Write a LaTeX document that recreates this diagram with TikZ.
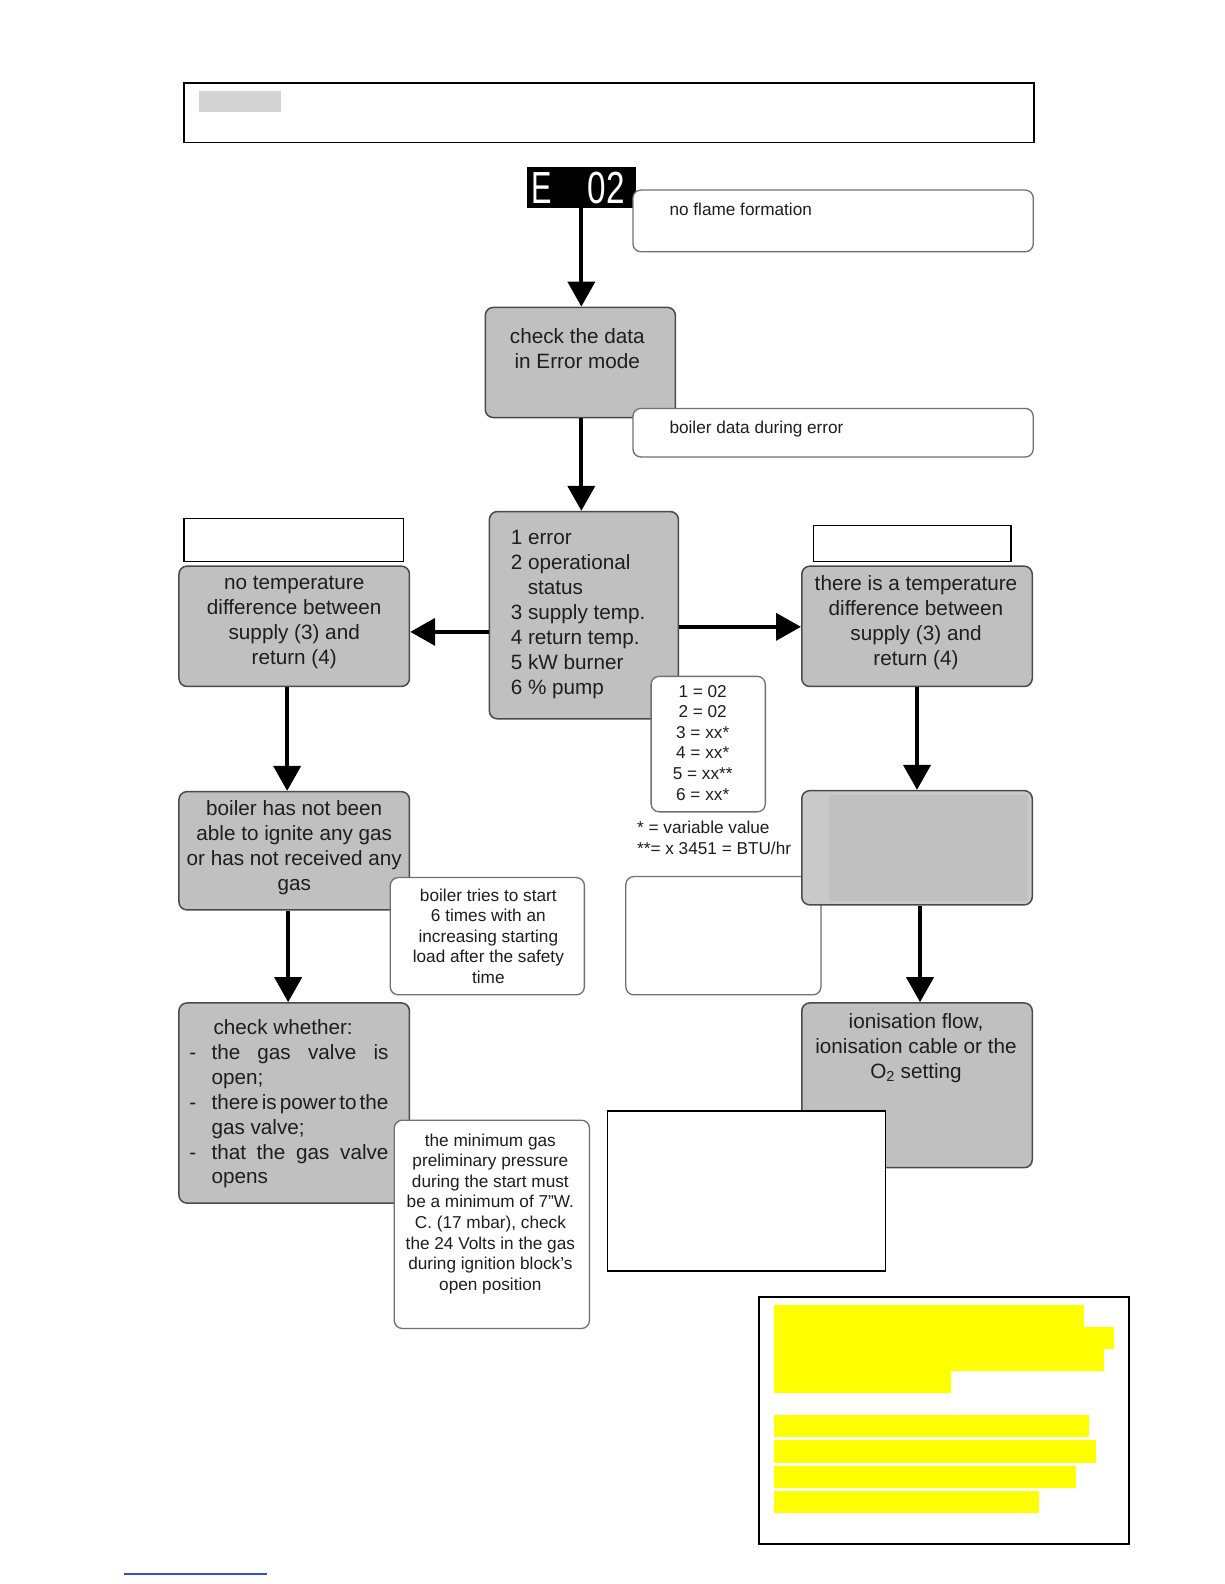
\documentclass[tikz,border=0pt]{standalone}
\usepackage{fontspec}
\usepackage{graphicx}
\setmainfont{Liberation Sans}
\usetikzlibrary{arrows.meta,fit}
\definecolor{boxgray}{HTML}{C0C0C0}
\definecolor{boxgraylight}{HTML}{C9C9C9}
\definecolor{boxedge}{HTML}{4A4A4A}
\definecolor{calloutedge}{HTML}{707070}
\definecolor{hdrgray}{HTML}{D3D3D3}
\definecolor{txt}{HTML}{1E1E1E}
\definecolor{hlyellow}{HTML}{FFFF00}
\definecolor{linkblue}{HTML}{3050C8}
\tikzset{
  gbox/.style={draw=boxedge, fill=boxgray, line width=1.5pt, rounded corners=8pt, inner sep=0pt},
  callout/.style={draw=calloutedge, fill=white, line width=1.3pt, rounded corners=8pt, inner sep=0pt},
  plainbox/.style={draw=black, fill=white, line width=1.3pt, inner sep=0pt},
  arr/.style={line width=4pt, -{Triangle[width=27pt,length=25pt]}},
  bigtxt/.style={font=\fontsize{20.7}{25}\selectfont, text=txt, align=center, inner sep=0pt},
  smalltxt/.style={font=\fontsize{17.2}{20.6}\selectfont, text=txt, align=center, inner sep=0pt},
  segtxt/.style={font=\fontsize{45}{45}\selectfont, text=white, inner sep=0pt},
  hlbar/.style={fill=hlyellow, draw=none, inner sep=0pt},
}
\begin{document}
\begin{tikzpicture}[x=1.011pt,y=-1.011pt]
\fill[white] (2pt,-1pt) rectangle (1226pt,-1585pt);
\useasboundingbox (2pt,-1pt) rectangle (1226pt,-1585pt);

% header
\node[draw=black, line width=1.8pt, inner sep=0pt, fit={(184,83)(1025,142)}] (hdr) {};
\node[fill=hdrgray, inner sep=0pt, fit={(199,91)(280,112)}] (hdrmark) {};

% E 02 display
\node[fill=black, inner sep=0pt, fit={(523,166)(631,207)}] (e02) {};
\node[segtxt] (eE) at (537.5,186.5) {\scalebox{0.68}[1]{E}};
\node[segtxt] (e0) at (601.5,186.5) {\scalebox{0.74}[1]{02}};

% callout: no flame formation
\node[callout, fit={(628,189)(1024,250)}] (flame) {};
\node[smalltxt, anchor=west] (flametxt) at (664,208) {no flame formation};

% check the data
\node[gbox, fit={(482,305)(670,414)}] (check) {};
\node[bigtxt] (checktxt) at (573,345.5) {check the data\\in Error mode};

% callout: boiler data during error
\node[callout, fit={(628,405)(1024,453)}] (bdata) {};
\node[smalltxt, anchor=west] (bdatatxt) at (664,425) {boiler data during error};

% data box
\node[gbox, fit={(486,507)(673,712)}] (data) {};
\node[bigtxt, align=left, anchor=west] (datatxt) at (507,608.5)
  {1 error\\2 operational\\\hspace*{17pt}status\\3 supply temp.\\4 return temp.\\5 kW burner\\6 \% pump};

% empty label boxes
\node[plainbox, line width=1.2pt, fit={(184,514)(401,556)}] (lnote) {};
\node[plainbox, line width=1.2pt, fit={(807,521)(1002,556)}] (rnote) {};

% left / right decision boxes
\node[gbox, fit={(179,561)(407,680)}] (nodiff) {};
\node[bigtxt] (nodifftxt) at (293,616.5) {no temperature\\difference between\\supply (3) and\\return (4)};
\node[gbox, fit={(795,561)(1023,680)}] (diff) {};
\node[bigtxt] (difftxt) at (908,616.5) {there is a temperature\\difference between\\supply (3) and\\return (4)};

\coordinate (yL) at (0,626);
\coordinate (yR) at (0,621);
\draw[arr] (yL -| data.west) -- (yL -| nodiff.east);
\draw[arr] (yR -| data.east) -- (yR -| diff.west);

% values callout
\node[callout, fit={(646,670)(759,804)}] (vals) {};
\node[smalltxt] (valstxt) at (697,735.5) {1 = 02\\2 = 02\\3 = xx*\\4 = xx*\\5 = xx**\\6 = xx*};
\node[smalltxt, align=left, anchor=west] (foot) at (632,830) {* = variable value\\**= x 3451 = BTU/hr};

% top arrows
\draw[arr] (e02.south) -- (e02.south |- check.north);
\coordinate (xC) at (577,0);
\draw[arr] (xC |- check.south) -- (xC |- data.north);

% left column
\node[gbox, fit={(179,784)(407,901)}] (boiler) {};
\node[bigtxt] (boilertxt) at (293,839) {boiler has not been\\able to ignite any gas\\or has not received any\\gas};
\coordinate (xL1) at (286,0);
\draw[arr] (xL1 |- nodiff.south) -- (xL1 |- boiler.north);

\node[callout, fit={(388,869)(580,985)}] (tries) {};
\node[smalltxt] (triestxt) at (485,927) {boiler tries to start\\6 times with an\\increasing starting\\load after the safety\\time};

\node[callout, fit={(621,868)(814,985)}] (blank) {};

\node[gbox, fit={(179,993)(407,1191)}] (checkw) {};
\coordinate (xL2) at (287,0);
\draw[arr] (xL2 |- boiler.south) -- (xL2 |- checkw.north);
\node[bigtxt, anchor=base west] (cw0) at (213,1024) {check whether:};
\node[bigtxt, anchor=base west] (cwd1) at (189,1049) {-};
\node[bigtxt, anchor=base west] (cw1) at (211,1049) {\makebox[177pt][s]{the\hfill gas\hfill valve\hfill is}};
\node[bigtxt, anchor=base west] (cw2) at (211,1074) {open;};
\node[bigtxt, anchor=base west] (cwd2) at (189,1098) {-};
\node[bigtxt, anchor=base west] (cw3) at (211,1098) {\makebox[177pt][s]{there\hfill is\hfill power\hfill to\hfill the}};
\node[bigtxt, anchor=base west] (cw4) at (211,1123) {gas valve;};
\node[bigtxt, anchor=base west] (cwd3) at (189,1148) {-};
\node[bigtxt, anchor=base west] (cw5) at (211,1148) {\makebox[177pt][s]{that\hfill the\hfill gas\hfill valve}};
\node[bigtxt, anchor=base west] (cw6) at (211,1172) {opens};

\node[callout, fit={(392,1109)(585,1315)}] (minp) {};
\node[smalltxt] (minptxt) at (487,1201.5) {the minimum gas\\preliminary pressure\\during the start must\\be a minimum of 7"W.\\C. (17 mbar), check\\the 24 Volts in the gas\\during ignition block's\\open position};

% right column
\node[gbox, fill=boxgraylight, fit={(795,783)(1023,896)}] (rgray) {};
\node[fill=boxgray, inner sep=0pt, fit={(822,787)(1019,892)}] (rgrayin) {};
\draw[arr] (diff.south -| rgray.north) -- (rgray.north);

\node[gbox, fit={(795,993)(1023,1156)}] (ion) {};
\node[bigtxt] (iontxt) at (908,1038) {ionisation flow,\\ionisation cable or the\\O\textsubscript{2} setting};
\coordinate (xR2) at (912,0);
\draw[arr] (xR2 |- rgray.south) -- (xR2 |- ion.north);

\node[plainbox, fit={(603,1100)(878,1258)}] (wrect) {};

% bottom right box with highlighted bars (actual pixel coords)
\begin{scope}[shift={(2pt,-1pt)}, x=1pt, y=-1pt]
  \node[plainbox, fit={(759,1297)(1129,1544)}] (notebox) {};
  \fill[hlyellow] (774,1305) rectangle (1084,1327);
  \fill[hlyellow] (774,1327) rectangle (1114,1349);
  \fill[hlyellow] (774,1349) rectangle (1104,1371);
  \fill[hlyellow] (774,1371) rectangle (951,1393);
  \fill[hlyellow] (774,1415) rectangle (1089,1437);
  \fill[hlyellow] (774,1440) rectangle (1096,1463);
  \fill[hlyellow] (774,1466) rectangle (1076,1488);
  \fill[hlyellow] (774,1491) rectangle (1039,1513);
  \coordinate (lnkA) at (124,1574);
  \coordinate (lnkB) at (267,1574);
  \draw[linkblue, line width=1.3pt] (lnkA) -- (lnkB);
\end{scope}
\end{tikzpicture}
\end{document}
